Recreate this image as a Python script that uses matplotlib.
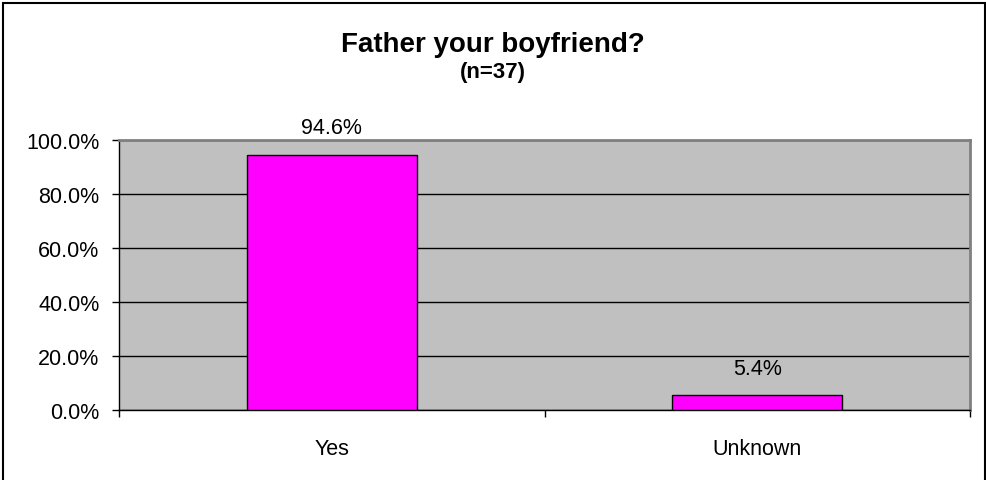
import matplotlib.pyplot as plt
from matplotlib.patches import Rectangle
from matplotlib.ticker import FuncFormatter

categories = ["Yes", "Unknown"]
values = [94.6, 5.4]
labels = ["94.6%", "5.4%"]
y_ticks = [0, 20, 40, 60, 80, 100]

plt.rcParams["font.family"] = ["Liberation Sans", "DejaVu Sans"]

fig = plt.figure(figsize=(9.86, 4.81), dpi=100)
ax = fig.add_axes([119 / 986, 70 / 481, 851 / 986, 270 / 481])

# gray plot area + black gridlines
ax.set_facecolor("#C0C0C0")
ax.set_axisbelow(True)
ax.yaxis.grid(True, color="black", linewidth=1)

x = list(range(len(categories)))
ax.bar(x, values, width=0.4, color="#FF00FF", edgecolor="black", linewidth=1, zorder=3)

for xi, v, lab in zip(x, values, labels):
    ax.annotate(lab, (xi, v), xytext=(0, 12), textcoords="offset points",
                ha="center", va="bottom", fontsize=15.5)

ax.set_xlim(-0.5, len(categories) - 0.5)
ax.set_ylim(0, 100)
ax.set_yticks(y_ticks)
ax.yaxis.set_major_formatter(FuncFormatter(lambda v, p: f"{v:.1f}%"))
ax.tick_params(axis="y", labelsize=15.5, length=5, width=1, pad=9, direction="out")

# category labels between boundary ticks
ax.set_xticks([-0.5, 0.5, 1.5])
ax.set_xticklabels([])
ax.set_xticks(x, minor=True)
ax.set_xticklabels(categories, minor=True)
ax.tick_params(axis="x", which="major", length=5, width=1, direction="out")
ax.tick_params(axis="x", which="minor", length=0, labelsize=15.5, pad=20)

for side in ["top", "right"]:
    ax.spines[side].set_color("#808080")
    ax.spines[side].set_linewidth(2)
for side in ["left", "bottom"]:
    ax.spines[side].set_color("black")
    ax.spines[side].set_linewidth(1)

fig.text(0.5, 1 - 52 / 481, "Father your boyfriend?", ha="center", va="baseline",
         fontsize=20, fontweight="bold")
fig.text(0.5, 1 - 78 / 481, "(n=37)", ha="center", va="baseline",
         fontsize=16, fontweight="bold")

# outer chart border (bottom edge is cut off in the original)
fig.patches.append(Rectangle((3 / 986, -0.05), 982 / 986, 1.05 - 4 / 481,
                             transform=fig.transFigure, fill=False,
                             edgecolor="black", linewidth=1.5))

fig.savefig("out.png", dpi=100)
